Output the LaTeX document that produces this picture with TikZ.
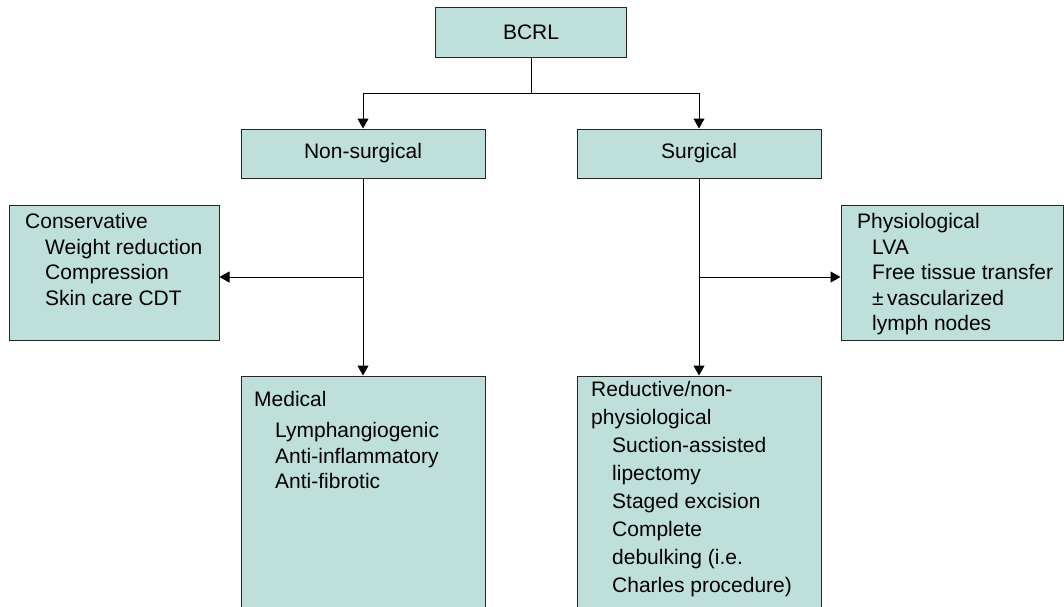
\documentclass[tikz,border=0pt]{standalone}
\usepackage{fontspec}
\setmainfont{Liberation Sans}
\usetikzlibrary{arrows.meta}
\definecolor{boxfill}{RGB}{191,223,219}
\tikzstyle{tbox}=[rectangle,draw=black!85,fill=boxfill,line width=1pt,inner sep=0pt]
\tikzstyle{tlist}=[align=left,inner sep=0pt,anchor=north west]
\tikzstyle{link}=[line width=1pt,-{Triangle[length=10pt,width=11pt]}]
\newcommand{\subin}[1][20pt]{\hspace*{#1}}

\begin{document}
\begin{tikzpicture}[x=1pt,y=-1pt,font=\fontsize{21}{25.5}\selectfont]
    \useasboundingbox (0,0) rectangle (1064,606);
    \clip (0,0) rectangle (1064,606);
    \node[tbox,minimum width=191pt,minimum height=50pt] (bcrl) at (531,32) {BCRL};
    \node[tbox,minimum width=244pt,minimum height=49pt] (nons) at (363,153.5) {Non-surgical};
    \node[tbox,minimum width=244pt,minimum height=49pt] (surg) at (699,153.5) {Surgical};
    \node[tbox,minimum width=210pt,minimum height=135pt] (cons) at (114,272.5) {};
    \node[tbox,minimum width=222pt,minimum height=135pt] (phys) at (952,272.5) {};
    \node[tbox,minimum width=244pt,minimum height=244pt] (med) at (363,498) {};
    \node[tbox,minimum width=244pt,minimum height=244pt] (red) at (699,498) {};

    \node[tlist] (constxt) at (25,213.5) {Conservative\\\subin Weight reduction\\\subin Compression\\\subin Skin care CDT};
    \node[tlist] (phystxt) at (857,213.5) {Physiological\\\subin[15pt]LVA\\\subin[15pt]Free tissue transfer\\\subin[15pt]±\,vascularized\\\subin[15pt]lymph nodes};
    \node[tlist] (medtxt) at (254,390.7) {Medical\\[6pt]\subin[21pt]Lymphangiogenic\\\subin[21pt]Anti-inflammatory\\\subin[21pt]Anti-fibrotic};
    \node[tlist,font=\fontsize{21}{28}\selectfont] (redtxt) at (591,381.5) {Reductive/non-\\physiological\\\subin[21pt]Suction-assisted\\\subin[21pt]lipectomy\\\subin[21pt]Staged excision\\\subin[21pt]Complete\\\subin[21pt]debulking (i.e.\\\subin[21pt]Charles procedure)};

    \coordinate (hub) at (531,93);
    \coordinate (lft) at (363,277);
    \coordinate (rgt) at (699,277);
    \draw[line width=1pt] (bcrl) -- (hub);
    \draw[link] (hub) -| (nons);
    \draw[link] (hub) -| (surg);
    \foreach \from/\to in {nons/med,surg/red}
    \draw[link] (\from) -- (\to);
    \draw[link] (lft) -- (lft -| cons.east);
    \draw[link] (rgt) -- (rgt -| phys.west);
\end{tikzpicture}
\end{document}
